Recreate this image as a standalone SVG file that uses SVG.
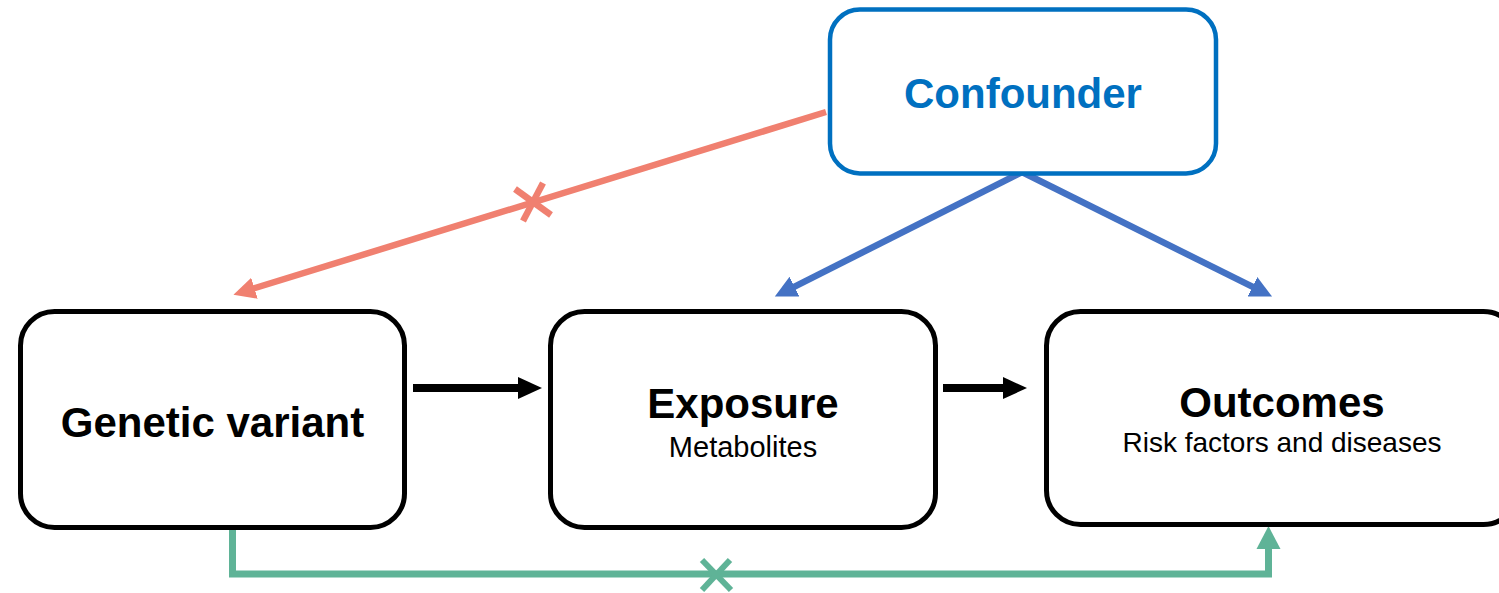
<svg xmlns="http://www.w3.org/2000/svg" width="1499" height="593" viewBox="0 0 1499 593">
  <style>
    .box { fill: #ffffff; stroke: #000000; stroke-width: 5; }
    .conf { fill: #ffffff; stroke: #0070C0; stroke-width: 4.5; }
    .title { font-family: "Liberation Sans", Arial, sans-serif; font-weight: bold; font-size: 42px; text-anchor: middle; fill: #000000; }
    .sub { font-family: "Liberation Sans", Arial, sans-serif; font-size: 28px; text-anchor: middle; fill: #000000; }
    .red { stroke: #F08070; stroke-width: 6.5; fill: none; }
    .blue { stroke: #4472C4; stroke-width: 6.5; fill: none; }
    .green { stroke: #5FB397; stroke-width: 7; fill: none; stroke-linejoin: miter; }
    .black { stroke: #000000; stroke-width: 8; fill: none; }
  </style>
  <defs>
    <marker id="ahRed" markerUnits="userSpaceOnUse" markerWidth="24" markerHeight="24" viewBox="0 -12 24 24" refX="1" refY="0" orient="auto">
      <path d="M0,-11 L22,0 L0,11 z" fill="#F08070"/>
    </marker>
    <marker id="ahBlue" markerUnits="userSpaceOnUse" markerWidth="24" markerHeight="24" viewBox="0 -12 24 24" refX="1" refY="0" orient="auto">
      <path d="M0,-11 L22,0 L0,11 z" fill="#4472C4"/>
    </marker>
    <marker id="ahGreen" markerUnits="userSpaceOnUse" markerWidth="26" markerHeight="26" viewBox="0 -13 26 26" refX="1" refY="0" orient="auto">
      <path d="M0,-12 L23,0 L0,12 z" fill="#5FB397"/>
    </marker>
    <marker id="ahBlack" markerUnits="userSpaceOnUse" markerWidth="26" markerHeight="26" viewBox="0 -13 26 26" refX="1" refY="0" orient="auto">
      <path d="M0,-11 L24,0 L0,11 z" fill="#000000"/>
    </marker>
  </defs>

  <g id="connectors">
    <!-- Confounder -> Genetic variant (blocked) -->
    <line class="red" x1="826" y1="112" x2="253.5" y2="288.5" marker-end="url(#ahRed)"/>
    <line class="red" x1="515" y1="189" x2="551" y2="215"/>
    <line class="red" x1="543" y1="183" x2="523" y2="221"/>
    <!-- Confounder -> Exposure / Outcomes -->
    <line class="blue" x1="1022" y1="172" x2="793.6" y2="287.1" marker-end="url(#ahBlue)"/>
    <line class="blue" x1="1022" y1="172" x2="1253.3" y2="287.2" marker-end="url(#ahBlue)"/>
    <!-- Genetic -> Exposure -> Outcomes -->
    <line class="black" x1="413" y1="388" x2="519" y2="388" marker-end="url(#ahBlack)"/>
    <line class="black" x1="943" y1="388" x2="1004" y2="388" marker-end="url(#ahBlack)"/>
    <!-- Genetic -> Outcomes direct (blocked) -->
    <path class="green" d="M232.5,529 V574 H1268.5 V548" marker-end="url(#ahGreen)"/>
    <line class="green" x1="702" y1="560" x2="731" y2="590" style="stroke-width:6"/>
    <line class="green" x1="730" y1="560" x2="702" y2="590" style="stroke-width:6"/>
  </g>

  <g id="node-confounder">
    <rect class="conf" x="830" y="9.5" width="386" height="164" rx="30" ry="30"/>
    <text class="title" x="1023" y="108" style="fill:#0070C0">Confounder</text>
  </g>

  <g id="node-genetic">
    <rect class="box" x="20.5" y="311.5" width="384" height="216" rx="34" ry="34"/>
    <text class="title" x="212.5" y="437">Genetic variant</text>
  </g>

  <g id="node-exposure">
    <rect class="box" x="550.5" y="311.5" width="385" height="216" rx="34" ry="34"/>
    <text class="title" x="743" y="418">Exposure</text>
    <text class="sub" x="743" y="457" style="font-size:29px">Metabolites</text>
  </g>

  <g id="node-outcomes">
    <rect class="box" x="1046.5" y="311.5" width="471" height="213" rx="34" ry="34"/>
    <text class="title" x="1282" y="417">Outcomes</text>
    <text class="sub" x="1282" y="452">Risk factors and diseases</text>
  </g>
</svg>
